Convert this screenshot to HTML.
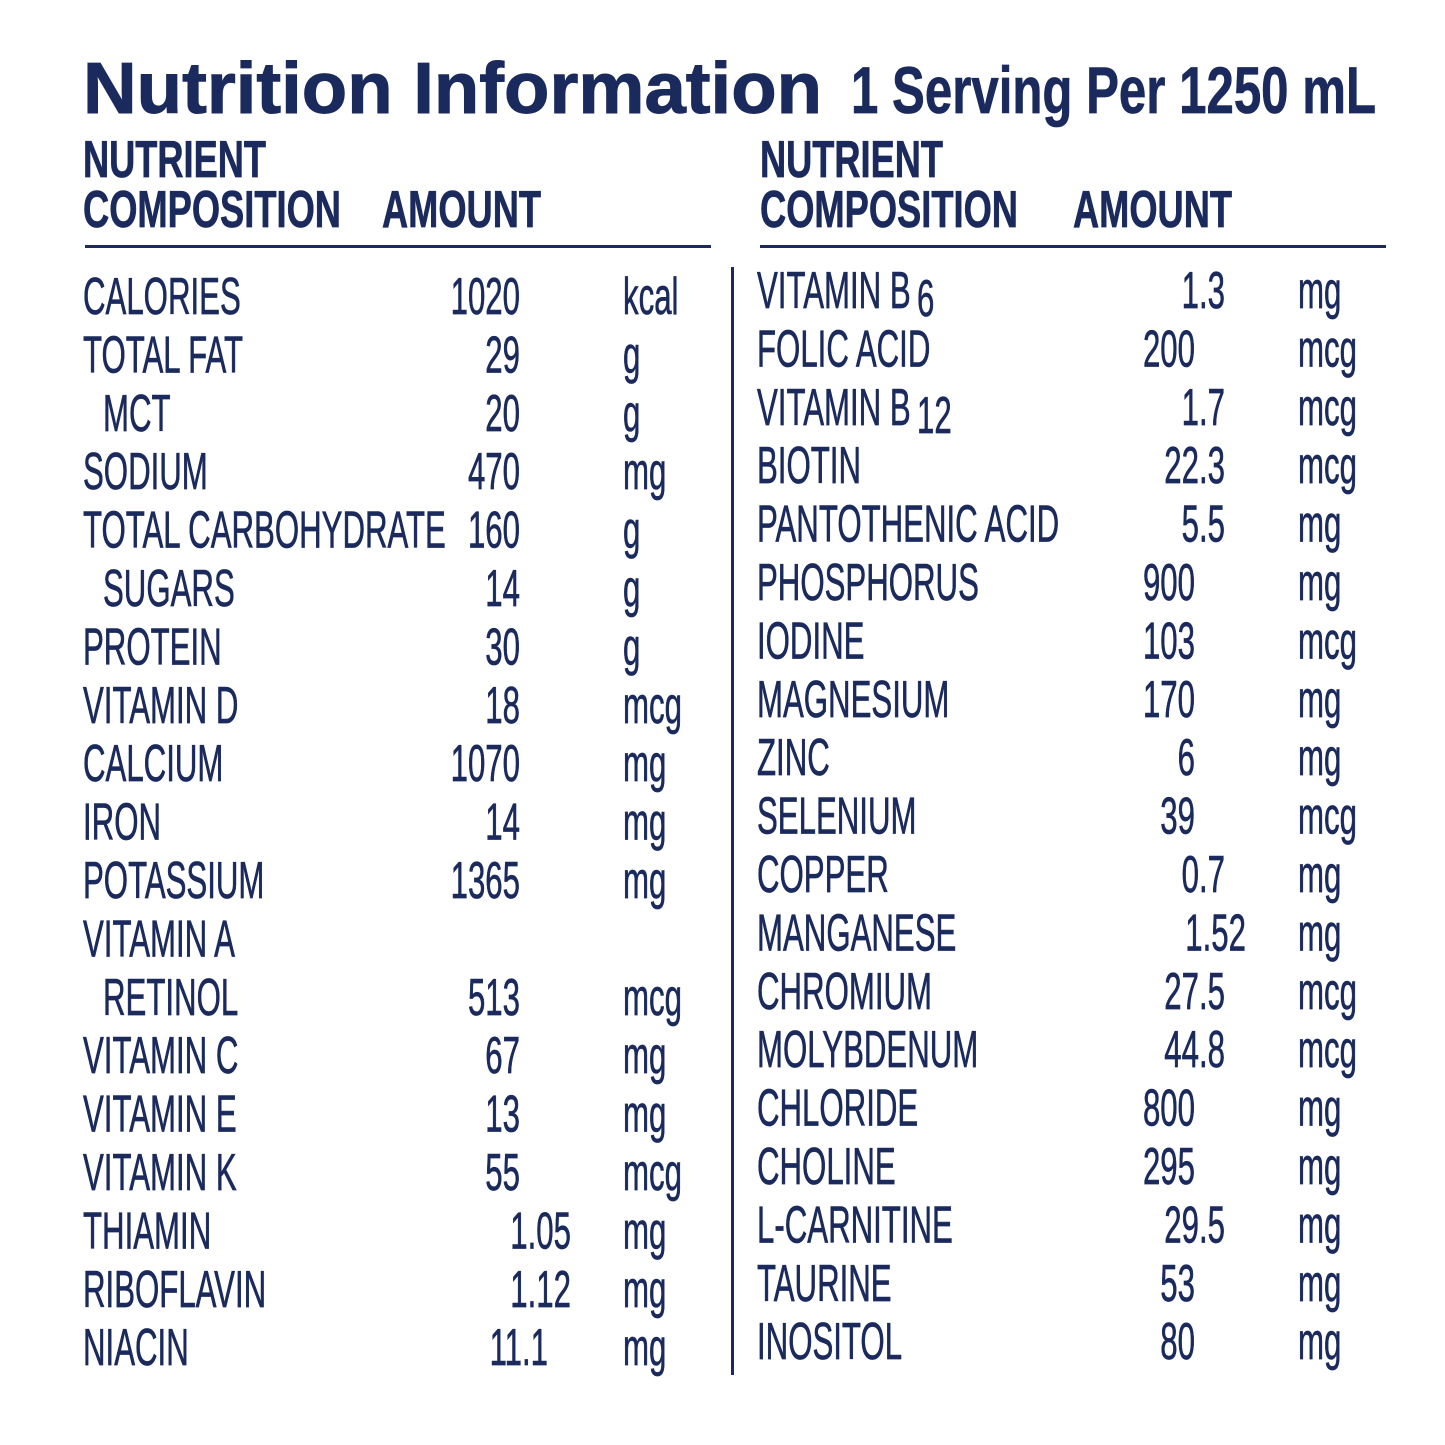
<!DOCTYPE html>
<html><head><meta charset="utf-8"><style>
html,body{margin:0;padding:0;background:#fff}
svg{display:block}
text{font-family:"Liberation Sans",sans-serif;fill:#1b2a5c;stroke:#1b2a5c;stroke-width:0.7}
.r{font-size:52px}
.h{font-size:52px;font-weight:bold}
</style></head><body>
<svg width="1445" height="1445" viewBox="0 0 1445 1445" xmlns="http://www.w3.org/2000/svg">
<text x="83" y="113" font-size="72" font-weight="bold" textLength="739" lengthAdjust="spacingAndGlyphs" style="stroke-width:1">Nutrition Information</text>
<text x="851" y="113" font-size="66" font-weight="bold" textLength="525" lengthAdjust="spacingAndGlyphs">1 Serving Per 1250 mL</text>
<text class="h" x="83" y="177" textLength="183" lengthAdjust="spacingAndGlyphs">NUTRIENT</text>
<text class="h" x="83" y="227" textLength="258" lengthAdjust="spacingAndGlyphs">COMPOSITION</text>
<text class="h" x="382" y="227" textLength="159" lengthAdjust="spacingAndGlyphs">AMOUNT</text>
<text class="h" x="760" y="177" textLength="183" lengthAdjust="spacingAndGlyphs">NUTRIENT</text>
<text class="h" x="760" y="227" textLength="258" lengthAdjust="spacingAndGlyphs">COMPOSITION</text>
<text class="h" x="1073" y="227" textLength="159" lengthAdjust="spacingAndGlyphs">AMOUNT</text>
<rect x="85" y="245" width="626" height="3" fill="#1b2a5c"/>
<rect x="760" y="245" width="626" height="3" fill="#1b2a5c"/>
<rect x="731" y="267" width="3" height="1108" fill="#1b2a5c"/>
<script>
var NS="http://www.w3.org/2000/svg",svg=document.querySelector('svg');
var S=0.6;
function t(x,y,s,anchor){var e=document.createElementNS(NS,'text');e.setAttribute('class','r');
e.setAttribute('transform','translate('+x+','+y+') scale('+S+',1)');
if(anchor)e.setAttribute('text-anchor',anchor);e.textContent=s;svg.appendChild(e);return e;}
var L=[["CALORIES","1020",520,"kcal",0],["TOTAL FAT","29",520,"g",0],["MCT","20",520,"g",1],["SODIUM","470",520,"mg",0],["TOTAL CARBOHYDRATE","160",520,"g",0],["SUGARS","14",520,"g",1],["PROTEIN","30",520,"g",0],["VITAMIN D","18",520,"mcg",0],["CALCIUM","1070",520,"mg",0],["IRON","14",520,"mg",0],["POTASSIUM","1365",520,"mg",0],["VITAMIN A","",520,"",0],["RETINOL","513",520,"mcg",1],["VITAMIN C","67",520,"mg",0],["VITAMIN E","13",520,"mg",0],["VITAMIN K","55",520,"mcg",0],["THIAMIN","1.05",571,"mg",0],["RIBOFLAVIN","1.12",571,"mg",0],["NIACIN","11.1",548,"mg",0]];
L.forEach(function(r,i){var y=314+i*58.4;t(r[4]?103:83,y,r[0]);if(r[1])t(r[2],y,r[1],'end');if(r[3])t(623,y,r[3]);});
var R=[["VITAMIN B","1.3",1225,"mg","6"],["FOLIC ACID","200",1195,"mcg"],["VITAMIN B","1.7",1225,"mcg","12"],["BIOTIN","22.3",1225,"mcg"],["PANTOTHENIC ACID","5.5",1225,"mg"],["PHOSPHORUS","900",1195,"mg"],["IODINE","103",1195,"mcg"],["MAGNESIUM","170",1195,"mg"],["ZINC","6",1195,"mg"],["SELENIUM","39",1195,"mcg"],["COPPER","0.7",1225,"mg"],["MANGANESE","1.52",1246,"mg"],["CHROMIUM","27.5",1225,"mcg"],["MOLYBDENUM","44.8",1225,"mcg"],["CHLORIDE","800",1195,"mg"],["CHOLINE","295",1195,"mg"],["L-CARNITINE","29.5",1225,"mg"],["TAURINE","53",1195,"mg"],["INOSITOL","80",1195,"mg"]];
R.forEach(function(r,i){var y=308+i*58.4;t(757,y,r[0]);if(r[4])t(917,y+8,r[4]);t(r[2],y,r[1],'end');t(1298,y,r[3]);});
</script>
</svg>
</body></html>
